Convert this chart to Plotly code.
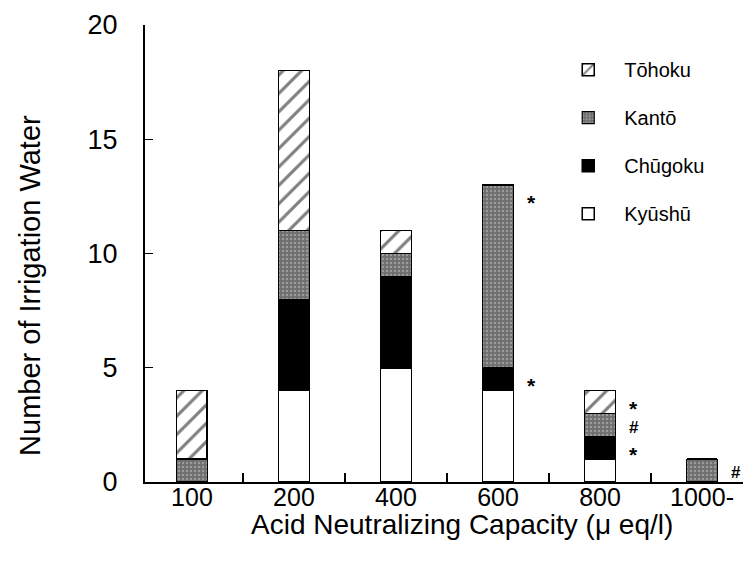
import plotly.graph_objects as go

categories = ["100", "200", "400", "600", "800", "1000-"]
kyushu = [0, 4, 5, 4, 1, 0]
chugoku = [0, 4, 4, 1, 1, 0]
kanto = [1, 3, 1, 8, 1, 1]
tohoku = [3, 7, 1, 0, 1, 0]

# significance marks: (category, series, symbol)
marks = [("600", "Kantō", "*"), ("600", "Chūgoku", "*"),
         ("800", "Tōhoku", "*"), ("800", "Kantō", "#"), ("800", "Chūgoku", "*"),
         ("1000-", "Kantō", "#")]

FONT = "Liberation Sans, Arial, sans-serif"
XRANGE = [-0.46, 5.48]

series = [
    ("Kyūshū", kyushu, 4, dict(color="white", line=dict(color="black", width=1.5))),
    ("Chūgoku", chugoku, 3, dict(color="black", line=dict(color="black", width=1.5))),
    ("Kantō", kanto, 2, dict(color="#707070", line=dict(color="black", width=1.2),
                             pattern=dict(shape=".", fgcolor="#c8c8c8", bgcolor="#6e6e6e",
                                          size=4, solidity=0.3, fillmode="overlay"))),
    ("Tōhoku", tohoku, 1, dict(color="white", line=dict(color="black", width=1.5),
                               pattern=dict(shape="/", fgcolor="black", bgcolor="white",
                                            size=13, solidity=0.24, fillmode="overlay"))),
]

n = len(categories)
pos = list(range(n))

fig = go.Figure()
for name, vals, rank, marker in series:
    fig.add_trace(go.Bar(x=pos, y=vals, name=name, marker=marker,
                         width=0.3, legendgroup=name, legendrank=rank))

# segment tops for annotation placement
tops = {}
cum = [0] * n
for name, vals, _, _ in series:
    cum = [c + v for c, v in zip(cum, vals)]
    tops[name] = list(cum)

annotations = []
for cat, ser, sym in marks:
    i = categories.index(cat)
    annotations.append(dict(x=i + 0.33, y=tops[ser][i] - 0.6, xref="x", yref="y",
                            text="<b>" + sym + "</b>", showarrow=False,
                            yshift=-4 if sym == "*" else 0,
                            font=dict(family=FONT, size=21 if sym == "*" else 17, color="black")))

annotations.append(dict(x=0.523, y=-0.094, xref="paper", yref="paper",
                        xanchor="center", yanchor="middle",
                        text="Acid Neutralizing Capacity (μ eq/l)", showarrow=False,
                        font=dict(family=FONT, size=28, color="black")))
annotations.append(dict(x=-0.19, y=0.431, xref="paper", yref="paper", textangle=-90,
                        xanchor="center", yanchor="middle",
                        text="Number of Irrigation Water", showarrow=False,
                        font=dict(family=FONT, size=29, color="black")))

fig.update_layout(
    width=743, height=559,
    margin=dict(l=137, r=0, t=17, b=85, autoexpand=False),
    plot_bgcolor="white", paper_bgcolor="white",
    barmode="stack",
    font=dict(family=FONT, color="black"),
    annotations=annotations,
    legend=dict(x=0.672, y=0.945, xanchor="left", yanchor="top",
                traceorder="grouped", tracegroupgap=19,
                font=dict(family=FONT, size=20, color="black"),
                bgcolor="rgba(0,0,0,0)", itemwidth=62),
    xaxis=dict(range=XRANGE, showline=True, linecolor="black", linewidth=2,
               showgrid=False, automargin=False, zeroline=False,
               tickvals=pos, ticktext=categories, ticks="",
               minor=dict(tickvals=[p + 0.5 for p in pos[:-1]], ticks="inside",
                          ticklen=9, tickcolor="black", tickwidth=1.5, showgrid=False),
               tickfont=dict(family=FONT, size=25, color="black"), ticklabelstandoff=-8),
    yaxis=dict(range=[0, 20], tickvals=[0, 5, 10, 15, 20], showline=True,
               linecolor="black", linewidth=2, mirror=True, ticks="inside", ticklen=8,
               tickcolor="black", showgrid=False, zeroline=False, automargin=False,
               tickfont=dict(family=FONT, size=27, color="black"), ticklabelstandoff=20),
)

fig.write_html("out.html")
